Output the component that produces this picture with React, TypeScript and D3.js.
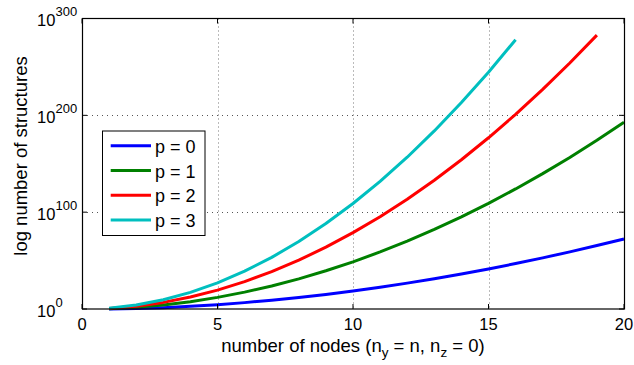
import React from "react";
import * as d3 from "d3";

// number of nodes
const nodes = [1, 2, 3, 4, 5, 6, 7, 8, 9, 10, 11, 12, 13, 14, 15, 16, 17, 18, 19, 20];

// log10(number of structures)
const p0 = [0, 0.48, 1.4, 2.74, 4.47, 6.58, 9.06, 11.89, 15.08, 18.62, 22.5, 26.72, 31.27, 36.16, 41.38, 46.92, 52.8, 58.99, 65.51, 72.37];
const p1 = [0.3, 1.68, 4.11, 7.55, 11.99, 17.42, 23.81, 31.16, 39.47, 48.72, 58.93, 70.07, 82.14, 95.16, 109.11, 123.98, 139.8, 156.52, 174.18, 192.78];
const p2 = [0.6, 2.89, 6.82, 12.37, 19.52, 28.25, 38.56, 50.43, 63.85, 78.83, 95.35, 113.42, 133.02, 154.16, 176.84, 201.05, 226.8, 254.06, 282.85];
const p3 = [0.9, 4.09, 9.53, 17.18, 27.05, 39.09, 53.31, 69.69, 88.23, 108.93, 131.78, 156.76, 183.89, 213.17, 244.58, 278.11];

const seriesNames = ["p = 0", "p = 1", "p = 2", "p = 3"];
const seriesColors = ["#0000ff", "#008000", "#ff0000", "#00bfbf"];
const xTicks = [0, 5, 10, 15, 20];
const yTickExps = [0, 100, 200, 300];

const W = 634;
const H = 365;
const left = 82;
const right = 624;
const top = 18.5;
const bottom = 309;

const font = "'Liberation Sans', Arial, Helvetica, sans-serif";

const App = () => {
  const x = d3.scaleLinear().domain([0, 20]).range([left, right]);
  const y = d3.scaleLog().domain([1, 1e300]).range([bottom, top]);

  const line = d3
    .line<number>()
    .x((d, i) => x(nodes[i]))
    .y((d) => y(Math.pow(10, d)));

  const allSeries = [p0, p1, p2, p3];

  // legend geometry
  const lgX0 = 102.5;
  const lgY0 = 131;
  const lgW = 102.5;
  const lgH = 104.5;
  const rowY = (i: number) => 145.7 + i * 24.8;

  return (
    <svg
      width={W}
      height={H}
      style={{ position: "absolute", left: 0, top: 0, background: "#fff" }}
      fontFamily={font}
    >
      <rect x={0} y={0} width={W} height={H} fill="#fff" />

      {/* grid */}
      {xTicks
        .filter((t) => t > 0 && t < 20)
        .map((t) => (
          <line
            key={"gx" + t}
            x1={Math.round(x(t)) + 0.5}
            x2={Math.round(x(t)) + 0.5}
            y1={top}
            y2={bottom}
            stroke="#777"
            strokeWidth={1}
            strokeDasharray="1,3"
          />
        ))}
      {yTickExps
        .filter((e) => e > 0 && e < 300)
        .map((e) => (
          <line
            key={"gy" + e}
            x1={left}
            x2={right}
            y1={Math.round(y(Math.pow(10, e))) + 0.5}
            y2={Math.round(y(Math.pow(10, e))) + 0.5}
            stroke="#555"
            strokeWidth={1}
            strokeDasharray="1,4"
          />
        ))}

      {/* series */}
      {allSeries.map((s, i) => (
        <path
          key={"s" + i}
          d={line(s) || ""}
          fill="none"
          stroke={seriesColors[i]}
          strokeWidth={3}
          strokeLinejoin="round"
        />
      ))}

      {/* axes box */}
      <rect
        x={left + 0.5}
        y={top}
        width={right - left}
        height={bottom - top}
        fill="none"
        stroke="#000"
        strokeWidth={1.2}
      />

      {/* ticks */}
      {xTicks.map((t) => (
        <g key={"tx" + t}>
          <line x1={x(t)} x2={x(t)} y1={bottom} y2={bottom - 5} stroke="#000" />
          <line x1={x(t)} x2={x(t)} y1={top} y2={top + 5} stroke="#000" />
          <text x={x(t)} y={330} textAnchor="middle" fontSize={16.5} fill="#000">
            {t}
          </text>
        </g>
      ))}
      {yTickExps.map((e) => {
        const yy = y(Math.pow(10, e));
        return (
          <g key={"ty" + e}>
            <line x1={left} x2={left + 5} y1={yy} y2={yy} stroke="#000" />
            <line x1={right} x2={right - 5} y1={yy} y2={yy} stroke="#000" />
            <text x={37} y={yy + 7.5} fontSize={16.5} fill="#000">
              10
            </text>
            <text x={55.5} y={yy - 2.5} fontSize={13} fill="#000">
              {e}
            </text>
          </g>
        );
      })}

      {/* axis labels */}
      <text x={353} y={352} textAnchor="middle" fontSize={18.5} fill="#000">
        number of nodes (n
        <tspan fontSize={13.5} dy={4.5}>y</tspan>
        <tspan dy={-4.5}> = n, n</tspan>
        <tspan fontSize={13.5} dy={4.5}>z</tspan>
        <tspan dy={-4.5}> = 0)</tspan>
      </text>
      <text
        transform={`translate(26.5,156) rotate(-90)`}
        textAnchor="middle"
        fontSize={18.5}
        fill="#000"
      >
        log number of structures
      </text>

      {/* legend */}
      <rect x={lgX0} y={lgY0} width={lgW} height={lgH} fill="#fff" stroke="#000" strokeWidth={1} />
      {seriesNames.map((name, i) => (
        <g key={"lg" + i}>
          <line x1={110.7} x2={151} y1={rowY(i)} y2={rowY(i)} stroke={seriesColors[i]} strokeWidth={3} />
          <text x={155} y={rowY(i) + 7} fontSize={18} fill="#000">
            {name}
          </text>
        </g>
      ))}
    </svg>
  );
};

export default App;
